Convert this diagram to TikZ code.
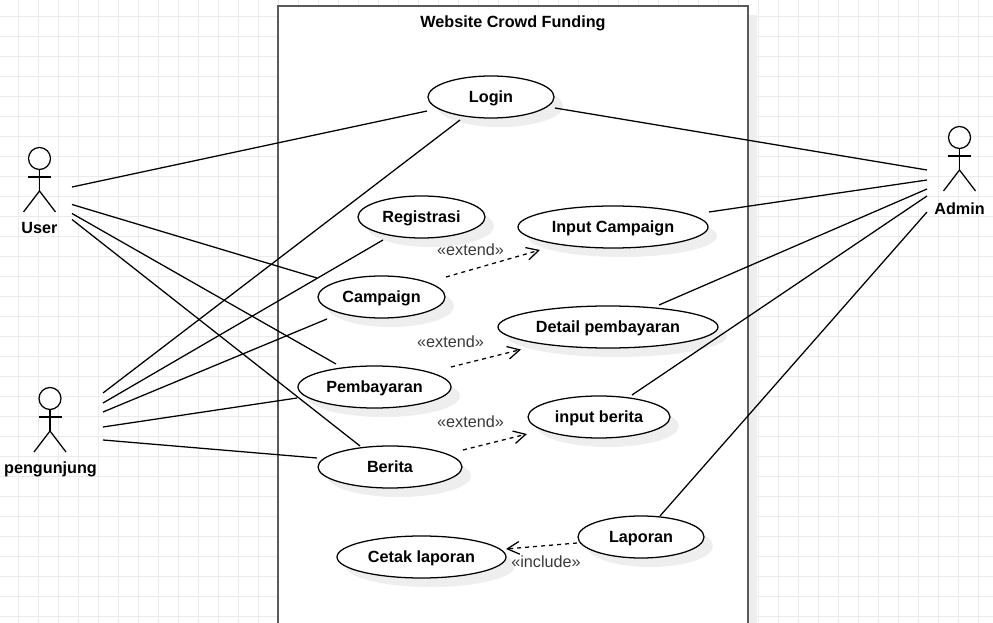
\documentclass[tikz,border=0pt]{standalone}
\usepackage{fontspec}
\setmainfont{Liberation Sans}
\usetikzlibrary{shapes.geometric,shadows,arrows.meta}
\definecolor{gridc}{HTML}{EBEBEB}
\definecolor{shadowc}{HTML}{EEEEEE}
\definecolor{boxc}{HTML}{5A5A5A}
\definecolor{labelc}{HTML}{3A3A3A}
\tikzset{
  x=0.75pt,y=-0.75pt,
  softshadow/.style={general shadow={fill=shadowc,draw=none,shadow xshift=6.75pt,shadow yshift=-6.75pt}},
  usecase/.style={ellipse,draw=black,line width=0.95pt,fill=white,inner sep=0pt,minimum height=31.5pt,text height=10.6pt,text depth=2.5pt,font=\bfseries\fontsize{12.15}{14}\selectfont,softshadow},
  sysbox/.style={rectangle,draw=boxc,line width=1.5pt,fill=white,inner sep=0pt,minimum width=352.5pt,minimum height=495pt,softshadow},
  assoc/.style={draw=black,line width=0.95pt},
  dep/.style={draw=black,line width=0.95pt,dash pattern=on 3pt off 3pt,-{Straight Barb[length=9pt,width=9.5pt,line width=0.95pt]}},
  head/.style={circle,draw=black,line width=0.95pt,minimum size=16.5pt,inner sep=0pt,fill=white},
  limb/.style={draw=black,line width=0.95pt},
  actorname/.style={font=\bfseries\fontsize{12.15}{14}\selectfont,inner sep=0pt},
  deplabel/.style={text=labelc,font=\fontsize{12.15}{14}\selectfont,inner sep=0pt},
  boxtitle/.style={font=\bfseries\fontsize{12.15}{14}\selectfont,inner sep=0pt},
}
\newcommand{\stickfigure}[1]{%
  \draw[limb] (#1.south) -- ([shift={(0,32.5)}]#1.center);
  \draw[limb] ([shift={(-11.5,18.5)}]#1.center) -- ([shift={(11.5,18.5)}]#1.center);
  \draw[limb] ([shift={(-16,53.5)}]#1.center) -- ([shift={(0,32.5)}]#1.center) -- ([shift={(16,53.5)}]#1.center);
}
\begin{document}
\begin{tikzpicture}
\useasboundingbox (0,0) rectangle (993,623);
\clip (0,0) rectangle (993,623);
\fill[white] (0,0) rectangle (993,623);
% grid
\foreach \gx in {18,38,...,998}{\draw[gridc,line width=0.7pt] (\gx,0) -- (\gx,623);}
\foreach \gy in {16.5,36.5,...,630}{\draw[gridc,line width=0.7pt] (0,\gy) -- (993,\gy);}
% system boundary
\node[sysbox] (system) at (513,336) {};
\node[boxtitle] (title) at (513,23) {Website Crowd Funding};
% use cases
\node[usecase,minimum width=94.5pt] (login) at (491,97) {Login};
\node[usecase,minimum width=95.25pt] (registrasi) at (421.5,217) {Registrasi};
\node[usecase,minimum width=95.25pt] (campaign) at (381.5,297) {Campaign};
\node[usecase,minimum width=142.5pt] (inputcampaign) at (613,227) {Input Campaign};
\node[usecase,minimum width=165pt] (detail) at (608,327) {Detail pembayaran};
\node[usecase,minimum width=114.75pt] (pembayaran) at (374.5,387) {Pembayaran};
\node[usecase,minimum width=106.5pt] (inputberita) at (599,417) {input berita};
\node[usecase,minimum width=108pt] (berita) at (390,467) {Berita};
\node[usecase,minimum width=94.5pt] (laporan) at (641,537) {Laporan};
\node[usecase,minimum width=126.75pt] (cetak) at (421.5,557) {Cetak laporan};
% actors
\node[head] (user) at (39.5,158.5) {};
\stickfigure{user}
\node[actorname] (userlabel) at (39.5,228.5) {User};
\node[head] (pengunjung) at (50,398.5) {};
\stickfigure{pengunjung}
\node[actorname] (pengunjunglabel) at (50.5,469) {pengunjung};
\node[head] (admin) at (959.5,137.5) {};
\stickfigure{admin}
\node[actorname] (adminlabel) at (959.5,208.5) {Admin};
% user associations
\draw[assoc] ([shift={(32.5,28.5)}]user.center) -- ([shift={(-64,14)}]login.center);
\draw[assoc] ([shift={(32.5,46)}]user.center) -- ([shift={(-64.5,-19)}]campaign.center);
\draw[assoc] ([shift={(32.5,55)}]user.center) -- ([shift={(-38.5,-23)}]pembayaran.center);
\draw[assoc] ([shift={(32.5,61)}]user.center) -- ([shift={(-30,-21)}]berita.center);
% pengunjung associations
\draw[assoc] ([shift={(53,-5.5)}]pengunjung.center) -- ([shift={(-31,23)}]login.center);
\draw[assoc] ([shift={(53,4.5)}]pengunjung.center) -- ([shift={(-38.5,23)}]registrasi.center);
\draw[assoc] ([shift={(53,13.5)}]pengunjung.center) -- ([shift={(-54.5,22)}]campaign.center);
\draw[assoc] ([shift={(53,28.5)}]pengunjung.center) -- ([shift={(-77.5,11)}]pembayaran.center);
\draw[assoc] ([shift={(53,41.5)}]pengunjung.center) -- ([shift={(-73,-9)}]berita.center);
% admin associations
\draw[assoc] ([shift={(-32.5,32.5)}]admin.center) -- ([shift={(64,11)}]login.center);
\draw[assoc] ([shift={(-32.5,42.5)}]admin.center) -- ([shift={(96,-15)}]inputcampaign.center);
\draw[assoc] ([shift={(-32.5,51.5)}]admin.center) -- ([shift={(51,-22)}]detail.center);
\draw[assoc] ([shift={(-32.5,58.5)}]admin.center) -- ([shift={(33,-22)}]inputberita.center);
\draw[assoc] ([shift={(-32.5,74.5)}]admin.center) -- ([shift={(19,-21)}]laporan.center);
% dependencies
\draw[dep] ([shift={(64.5,-20)}]campaign.center) -- ([shift={(-73,23)}]inputcampaign.center);
\draw[dep] ([shift={(76.5,-20)}]pembayaran.center) -- ([shift={(-87,22.5)}]detail.center);
\draw[dep] ([shift={(73,-17)}]berita.center) -- ([shift={(-72,17)}]inputberita.center);
\draw[dep] ([shift={(-64,6)}]laporan.center) -- ([shift={(84.5,-8)}]cetak.center);
\node[deplabel] (ext1) at (470.5,250) {«extend»};
\node[deplabel] (ext2) at (450.5,342) {«extend»};
\node[deplabel] (ext3) at (470.5,422) {«extend»};
\node[deplabel] (inc1) at (546,562) {«include»};
\end{tikzpicture}
\end{document}
